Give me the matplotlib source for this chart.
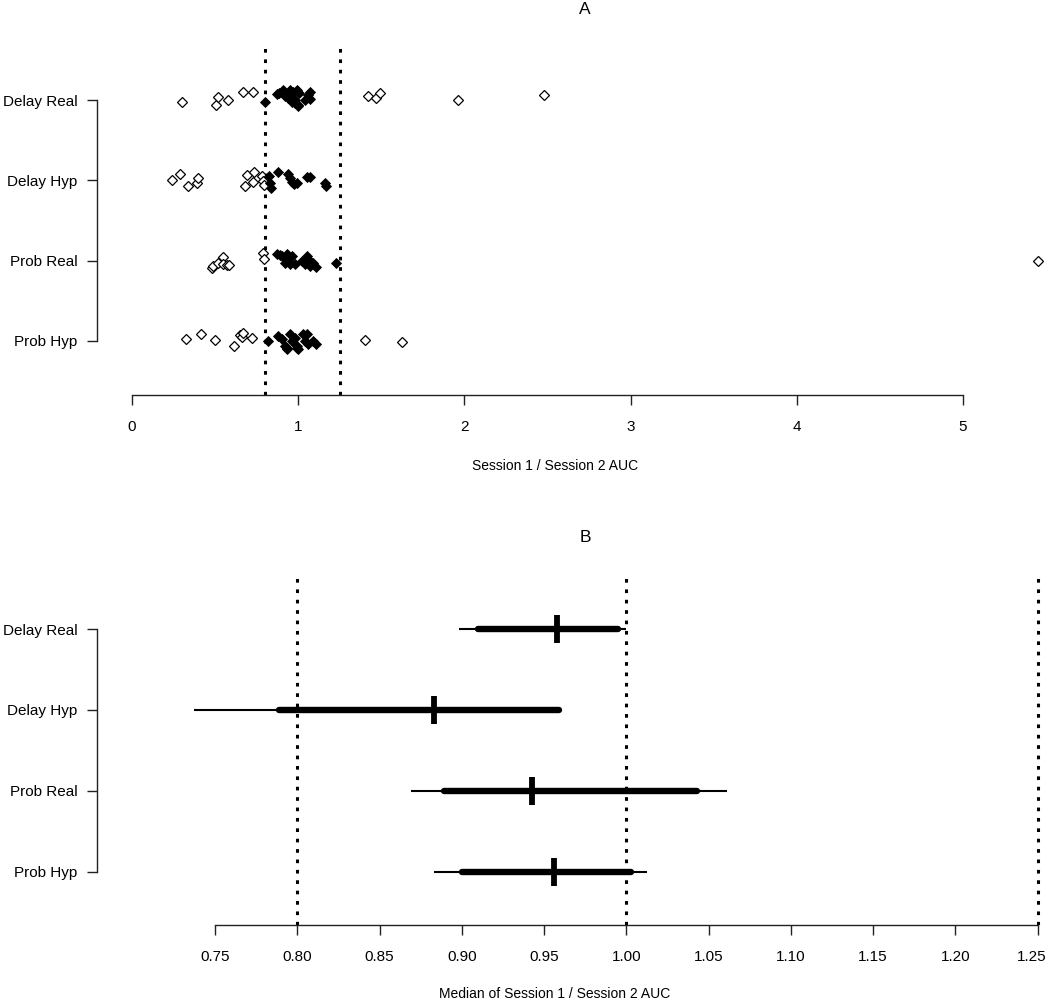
import matplotlib
matplotlib.use("Agg")
import matplotlib.pyplot as plt
from matplotlib.transforms import ScaledTranslation

plt.rcParams['font.family'] = ['Liberation Sans', 'DejaVu Sans']

groups = ["Delay Real", "Delay Hyp", "Prob Real", "Prob Hyp"]

# Panel A: ratio values (open = outside [0.8, 1.25], filled = inside); jitter in pixels (+ = down)
dr_open = [0.30, 0.505, 0.52, 0.58, 0.67, 0.73, 1.42, 1.47, 1.49, 1.96, 2.48]
dr_open_j = [2, 5, -3, 0, -8, -8, -4, -2, -7, 0, -5]
dr_fill = [0.80, 0.872, 0.884, 0.909, 0.921, 0.933, 0.939, 0.951, 0.963, 0.969, 0.981,
           0.993, 0.999, 1.005, 0.963, 0.981, 1.041, 1.059, 1.071, 1.071, 1.00]
dr_fill_j = [2, -6, -7, -10, -4, -5, -2, -10, 2, -8, 3, -10, 6, -7, 0, 0, 0, -5, -8, -1, 5]

dh_open = [0.24, 0.29, 0.337, 0.39, 0.40, 0.68, 0.69, 0.73, 0.734, 0.78, 0.79, 0.795]
dh_open_j = [0, -6, 6, 3, -2, 6, -5, 2, -8, -4, 1, 5]
dh_fill = [0.825, 0.83, 0.836, 0.88, 0.94, 0.95, 0.963, 0.975, 0.99, 1.053, 1.071, 1.16, 1.167]
dh_fill_j = [-4, 3, 8, -8, -6, -2, 2, 4, 3, -3, -3, 3, 6]

pr_open = [0.48, 0.49, 0.52, 0.55, 0.55, 0.57, 0.585, 0.79, 0.795, 5.45]
pr_open_j = [7, 5, 2, -4, 3, 4, 4, -8, -2, 0]
pr_fill = [0.87, 0.90, 0.92, 0.93, 0.94, 0.95, 0.96, 0.98, 1.02, 1.04, 1.06, 1.07, 1.09,
           1.11, 1.23, 0.89, 1.05]
pr_fill_j = [-7, -5, 2, -7, -2, 3, -5, 3, 0, 3, -2, 5, 2, 6, 2, -6, -5]

ph_open = [0.325, 0.415, 0.50, 0.614, 0.65, 0.66, 0.67, 0.72, 1.40, 1.625]
ph_open_j = [-2, -7, -1, 5, -6, -4, -8, -3, -1, 1]
ph_fill = [0.82, 0.88, 0.90, 0.92, 0.93, 0.95, 0.963, 0.98, 0.99, 1.00, 1.03, 1.04, 1.05,
           1.06, 1.09, 1.11, 0.93, 0.99]
ph_fill_j = [0, -5, -2, 5, 8, -7, 0, -3, 5, 8, -7, 0, -7, 3, 0, 3, 7, 7]

a_open = [dr_open, dh_open, pr_open, ph_open]
a_open_j = [dr_open_j, dh_open_j, pr_open_j, ph_open_j]
a_fill = [dr_fill, dh_fill, pr_fill, ph_fill]
a_fill_j = [dr_fill_j, dh_fill_j, pr_fill_j, ph_fill_j]
a_ticks = [0, 1, 2, 3, 4, 5]
a_ref = [0.8, 1.25]

# Panel B: median with intervals
b_median = [0.958, 0.883, 0.943, 0.956]
b_thick_lo = [0.910, 0.789, 0.889, 0.900]
b_thick_hi = [0.995, 0.959, 1.043, 1.003]
b_thin_lo = [0.8985, 0.737, 0.869, 0.883]
b_thin_hi = [1.000, 0.959, 1.061, 1.0125]
b_ticks = [0.75, 0.80, 0.85, 0.90, 0.95, 1.00, 1.05, 1.10, 1.15, 1.20, 1.25]
b_ref = [0.8, 1.0, 1.25]

W, H = 1050, 1002
fig = plt.figure(figsize=(W / 100, H / 100), dpi=100)

def frac_box(left, right, top, bottom):
    return [left / W, 1 - bottom / H, (right - left) / W, (bottom - top) / H]

axA = fig.add_axes(frac_box(97, 1050, 46, 395))
axB = fig.add_axes(frac_box(97, 1050, 577, 925))

rows = [1, 2, 3, 4]
dot = (0, (1.2, 2.2))

# ---- Panel A
px_per_row_A = 80.33
for i, r in enumerate(rows):
    yo = [r + j / px_per_row_A for j in a_open_j[i]]
    axA.plot(a_open[i], yo, linestyle='none', marker='D', ms=4.6, mfc='white',
             mec='black', mew=0.9, zorder=3)
    yf = [r + j / px_per_row_A for j in a_fill_j[i]]
    axA.plot(a_fill[i], yf, linestyle='none', marker='D', ms=5.2, mfc='black',
             mec='black', mew=0.6, zorder=3)
for v in a_ref:
    axA.axvline(v, color='black', lw=2.2, linestyle=dot, zorder=2)
axA.set_xlim((97 - 132) / 166.2, (1050 - 132) / 166.2)
axA.set_ylim(4 + (395 - 341) / px_per_row_A, 1 - (100 - 46) / px_per_row_A)
axA.set_xticks(a_ticks)
axA.set_xticklabels([str(t) for t in a_ticks])

# ---- Panel B
px_per_row_B = 81.0
for i, r in enumerate(rows):
    axB.plot([b_thin_lo[i], b_thin_hi[i]], [r, r], color='black', lw=1.5,
             solid_capstyle='butt', zorder=3)
    axB.plot([b_thick_lo[i], b_thick_hi[i]], [r, r], color='black', lw=4.6,
             solid_capstyle='round', zorder=3)
    axB.plot([b_median[i], b_median[i]], [r - 14 / px_per_row_B, r + 14 / px_per_row_B],
             color='black', lw=4.2, solid_capstyle='butt', zorder=4)
for v in b_ref:
    axB.axvline(v, color='black', lw=2.2, linestyle=dot, zorder=2)
axB.set_xlim(0.75 + (97 - 215) / 1645, 0.75 + (1050 - 215) / 1645)
axB.set_ylim(4 + (925 - 872) / px_per_row_B, 1 - (629 - 577) / px_per_row_B)
axB.set_xticks(b_ticks)
axB.set_xticklabels([f"{t:.2f}" for t in b_ticks])

for ax, lo, hi in [(axA, a_ticks[0], a_ticks[-1]), (axB, b_ticks[0], b_ticks[-1])]:
    for s in ['top', 'right']:
        ax.spines[s].set_visible(False)
    ax.spines['bottom'].set_bounds(lo, hi)
    ax.spines['left'].set_bounds(1, 4)
    for s in ['bottom', 'left']:
        ax.spines[s].set_linewidth(1.0)
        ax.spines[s].set_color('#222222')
    ax.set_yticks(rows)
    ax.set_yticklabels(groups)
    ax.tick_params(axis='x', direction='out', length=7.2, width=1.0, pad=11,
                   labelsize=11, color='#222222')
    ax.tick_params(axis='y', direction='out', length=7.2, width=1.0, pad=7,
                   labelsize=11, color='#222222')
    ax.patch.set_alpha(0)

# keep the last tick label of panel B inside the canvas
last = axB.get_xticklabels()[-1]
last.set_transform(last.get_transform() + ScaledTranslation(-6 / 100, 0, fig.dpi_scale_trans))

fig.text(585 / W, 1 - 10 / H, "A", ha='center', va='center', fontsize=12.5)
fig.text(585 / W, 1 - 537 / H, "B", ha='center', va='center', fontsize=12.5)
fig.text(555 / W, 1 - 466 / H, "Session 1 / Session 2 AUC", ha='center', va='center',
         fontsize=10)
fig.text(555 / W, 1 - 994 / H, "Median of Session 1 / Session 2 AUC", ha='center',
         va='center', fontsize=10)

fig.savefig("out.png", dpi=100)
